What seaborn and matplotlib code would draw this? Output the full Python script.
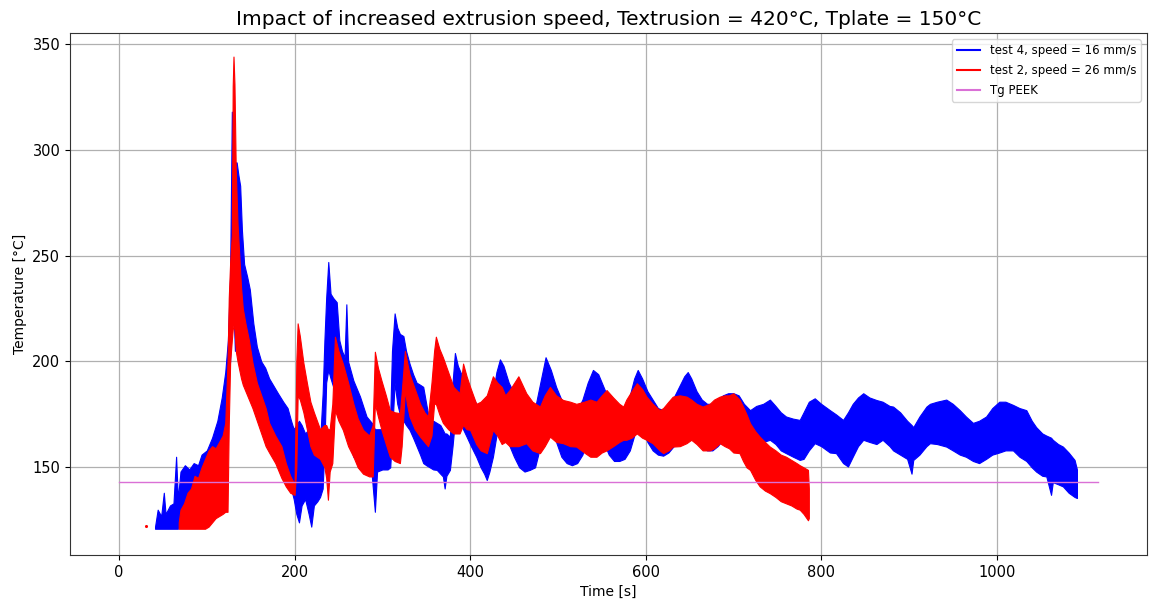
import numpy as np
import pandas as pd
import matplotlib
matplotlib.use("Agg")
import matplotlib.pyplot as plt
from matplotlib.lines import Line2D
import seaborn as sns

# ---------------- data ----------------
# test 4 (speed 16 mm/s): time [s], lower / upper envelope of the noisy signal [°C]
blue_t = [41, 44, 48, 51, 53, 58, 62, 65, 67, 70, 75, 80, 85, 90, 94, 100, 106, 112, 117, 121,
          124, 126.5, 128.5, 130, 132, 134, 136, 138, 140, 142.5, 146, 149, 153, 157, 162, 166.5,
          171, 176, 181, 187, 192, 196, 199, 202, 205, 208, 212, 216, 219, 222, 226, 229, 232,
          234, 236, 238.4, 241, 244, 248, 251, 254, 257, 259, 261, 267, 274.5, 282, 288, 291.5,
          294, 300, 306, 309, 311, 314, 317, 320, 324, 327, 331, 335, 339, 343, 346.6, 350, 354,
          358, 362, 366, 369, 371, 373, 377, 380, 382.7, 386, 388, 392, 396, 401, 407, 412, 416,
          419, 422, 426, 430, 434, 438, 444, 450, 456, 462, 468, 474, 480, 486, 492, 498, 504,
          510, 516, 522, 528, 534, 540, 546, 552, 558, 564, 570, 576, 582, 587, 591, 596, 602,
          608, 614, 620, 626, 632, 638, 644, 648, 652, 658, 664, 670, 676, 682, 688, 694, 700,
          706, 712, 719, 726, 734, 741.6, 748, 754, 760, 768, 775.6, 780, 786, 792.7, 800, 810,
          817, 825, 830.6, 836, 842, 848, 855, 863, 870, 878, 882, 890, 898, 903, 905, 912, 920,
          924, 932, 942.6, 950, 958, 965, 973, 980, 988, 995, 1003, 1010, 1018.6, 1026, 1033.8,
          1040, 1045, 1052, 1056.6, 1062, 1064, 1070, 1075.5, 1082, 1088.8, 1091.5]
blue_lo = [121, 121, 121, 121, 121, 121, 121, 121, 121, 123, 126, 128, 130, 132, 134, 138, 142, 148,
           155, 170, 185, 200, 225, 230, 205, 215, 210, 205, 200, 195, 190, 186, 180, 176, 172,
           168, 164, 160, 155, 150, 145, 140, 135, 128, 124, 132, 135, 128, 122, 132, 134, 136,
           140, 160, 190, 196, 192, 188, 183, 178, 172, 168, 166, 164, 155, 152, 148, 146, 129,
           148, 149, 149, 150, 165, 190, 180, 175, 172, 170, 167.7, 164, 160, 156, 152, 151, 150,
           149, 148.8, 147, 145.7, 140, 146, 148.8, 160, 172, 174, 174, 168, 164.5, 160, 155, 150,
           147, 144, 148, 155, 165, 170, 168, 161, 155, 150, 148, 148.8, 150, 160, 172, 168, 162,
           155, 152, 151, 152, 156, 165, 170, 168, 162, 156, 153, 153, 154, 158, 165, 170, 168,
           162, 158, 156, 155.5, 157, 160, 163, 166, 168, 165, 162, 160, 158, 158, 160, 163, 166,
           167, 166, 164, 163, 163, 162, 163, 161, 158, 156.7, 155, 153.5, 154, 158, 161.4, 160,
           157, 156.7, 152, 150.4, 155, 160, 163, 162, 161, 163, 160, 158, 156, 154, 147, 153.5,
           156, 160, 161.4, 161, 159.8, 158, 156, 155, 153, 152, 154, 156, 157, 158, 158, 155,
           153, 150, 148, 146, 145.7, 137, 143, 142, 141, 138, 136, 135.5]
blue_hi = [122, 130, 127, 138, 128, 132, 133, 155, 135, 148, 151, 149, 152, 151, 156, 158, 164, 172,
           183, 195, 210, 240, 318, 300, 294, 294, 288, 283, 262, 246, 240, 234, 218, 207, 200,
           197, 192, 188.5, 185, 181, 178, 172, 168, 170, 172, 170, 166, 168, 162, 161, 160, 162,
           185, 210, 230, 247, 232, 230, 228, 210, 205, 202, 227, 200, 191, 183.5, 174, 171, 168,
           168, 168, 167, 175, 205, 222.7, 216, 213, 212, 205, 199, 194, 190, 189, 188, 180, 171,
           172, 171, 170, 167.7, 166, 166, 164.5, 190, 204, 198, 196, 192, 189.7, 185, 180, 177,
           175, 173, 175, 185, 195, 201, 198, 190, 185, 180, 177, 176, 178, 190, 202, 196, 188,
           182, 178, 176, 177, 182, 190, 196, 194, 188, 182, 178, 176, 178, 184, 192, 196, 192,
           186, 182, 178, 177, 178, 183, 188, 193, 195, 192, 186, 182, 180, 180, 182, 184, 185,
           185, 184, 180, 177, 179, 180, 182, 179, 176, 174, 173, 172.4, 176, 181, 182.6, 180,
           177, 175, 172.4, 176, 180, 183, 185, 183, 181.8, 181, 179, 178.7, 176, 172, 170, 169,
           174, 178.7, 180, 181, 182, 180, 177, 174, 171, 172, 174, 178, 181, 181, 179.5, 178,
           177, 172, 169, 166, 165, 164, 163, 161, 159.8, 157, 153.5, 149]

# test 2 (speed 26 mm/s)
red_t = [68, 70, 74, 78, 82, 86, 90, 94, 98, 102, 106, 110, 114, 118, 121, 123.6, 125, 126.6,
         128.5, 129.5, 130.4, 131.5, 133, 135, 137, 139, 141, 144, 148, 152, 157, 162, 167, 171,
         178, 185, 190, 195, 200, 202, 203.5, 206, 210, 214, 218, 222, 229, 234, 236, 238, 240,
         243, 246, 250, 255, 261, 267, 272, 278, 285, 289, 291.5, 295, 299, 304, 308.6, 314, 320,
         322, 325.7, 328, 331, 337, 343, 348, 352, 356, 359, 361, 365, 369, 375, 381, 388, 392,
         396, 400, 407, 412, 419, 426, 431, 436, 440, 445, 455, 464, 471, 479.6, 485, 491, 498,
         506, 514, 521, 530, 537, 544, 550, 555.5, 563, 570, 574.5, 578, 584, 590, 596, 601, 608,
         616, 620, 626, 631, 639, 646.6, 652, 658, 665, 673, 678, 684.5, 690, 695, 700, 707, 711,
         715, 719, 725, 730, 736, 741.5, 748, 754, 760, 766, 772, 775.6, 780, 785, 786]
red_lo = [121, 121, 121, 121, 121, 121, 121, 121, 121, 122, 124, 126, 127, 128, 129, 129, 170, 200,
          210, 215, 217, 215, 205, 200, 196, 192, 189, 186, 182, 178, 172, 166, 160, 157, 152, 145,
          141, 138, 137, 150, 184, 182, 176, 168, 160, 156, 154, 150, 145, 134.7, 148, 152, 177,
          172, 167.7, 160, 155, 150, 147, 145.7, 145.7, 180, 174, 167.7, 161, 155, 153, 152, 160,
          186.5, 180, 174, 168, 164.5, 162, 160, 165, 180, 180, 175, 171, 168, 166, 166, 170, 168,
          167.7, 161, 158, 156.7, 167.7, 165, 161, 162, 160, 160, 161.4, 158, 156.7, 160, 164.5,
          162, 161.4, 160, 159.8, 157, 155, 155, 157, 158, 160, 162, 163, 163, 164, 166, 164, 163,
          161.4, 158, 156.7, 158, 159.8, 160, 161.4, 163, 161, 158, 158, 159, 161.4, 160, 159, 157,
          156.7, 153, 150, 148.8, 144, 141, 139, 137.8, 136, 134, 133, 132, 130.5, 130, 128, 125,
          126]
red_hi = [124, 130, 133, 138, 140, 146, 145, 150, 154, 158, 160, 159, 162, 165, 171, 200, 230, 247,
          260, 330, 344, 331, 290, 265, 250, 235, 225, 218, 210, 199.5, 190, 184, 178, 171, 165,
          160, 152, 146, 142, 200, 218, 212, 199.5, 190, 181, 176, 168, 170, 170, 168, 168, 180,
          211.7, 205, 199, 190, 180, 173, 167.7, 165, 170, 204.6, 197, 191, 184, 177, 176, 175.6,
          185, 205, 200, 194, 187, 180, 176, 174, 190, 205, 211.7, 206, 202, 195, 188, 185, 199,
          193, 188, 180, 181, 184, 193, 190, 188, 184, 186.5, 193, 185, 181, 178.7, 184, 188, 184,
          181.8, 181, 180, 181, 182, 181, 184, 186.5, 183, 180, 178.7, 182, 186, 189.7, 187, 183.4,
          180, 177, 178, 181, 183.4, 184, 183.4, 182, 180, 178.7, 180, 182, 183.4, 184, 184, 185,
          182, 178.7, 175, 170.8, 167, 164.5, 162, 159.8, 158, 156, 155, 153.5, 152, 151, 150,
          148.8, 140]

# isolated first sample of test 2
red_dot_t = [31]
red_dot_T = [122.5]

# glass transition temperature of PEEK
tg_t = [0, 1115]
tg_T = [143, 143]

labels = ["test 4, speed = 16 mm/s", "test 2, speed = 26 mm/s", "Tg PEEK"]
title = "Impact of increased extrusion speed, Textrusion = 420°C, Tplate = 150°C"

# ---------------- figure ----------------
plt.rcParams["font.family"] = ["DejaVu Sans"]
fig, ax = plt.subplots(figsize=(11.49, 6.05), dpi=100)
fig.subplots_adjust(left=0.061, right=0.998, bottom=0.083, top=0.945)


def band_frame(t, lo, hi):
    return pd.DataFrame({"t": list(t) + list(t), "T": list(lo) + list(hi)})


blue_df = band_frame(blue_t, blue_lo, blue_hi)
red_df = band_frame(red_t, red_lo, red_hi)

# the noisy signals are drawn as their min-max band (seaborn percentile interval 0-100)
sns.lineplot(data=blue_df, x="t", y="T", estimator="mean", errorbar=("pi", 100),
             color="blue", linewidth=0, ax=ax, legend=False,
             err_kws={"alpha": 1.0, "linewidth": 0.8, "edgecolor": "blue", "zorder": 2})
sns.lineplot(data=red_df, x="t", y="T", estimator="mean", errorbar=("pi", 100),
             color="red", linewidth=0, ax=ax, legend=False,
             err_kws={"alpha": 1.0, "linewidth": 0.8, "edgecolor": "red", "zorder": 3})
sns.scatterplot(x=red_dot_t, y=red_dot_T, color="red", s=5, linewidth=0, ax=ax, zorder=3)
sns.lineplot(x=tg_t, y=tg_T, color="orchid", linewidth=1.0, ax=ax, zorder=4)

ax.set_title(title, fontsize=14.5)
ax.set_xlabel("Time [s]", fontsize=10)
ax.set_ylabel("Temperature [°C]", fontsize=10)
ax.tick_params(labelsize=10.5)
ax.set_xticks([0, 200, 400, 600, 800, 1000])
ax.set_yticks([150, 200, 250, 300, 350])
ax.set_xlim(-55.8, 1171)
ax.set_ylim(108.7, 355)
ax.grid(True, color="#b0b0b0", linewidth=0.9)
ax.set_axisbelow(True)
for s in ax.spines.values():
    s.set_color("#333333")

handles = [Line2D([], [], color="blue", linewidth=1.5),
           Line2D([], [], color="red", linewidth=1.5),
           Line2D([], [], color="orchid", linewidth=1.5)]
ax.legend(handles, labels, loc="upper right", fontsize=8.5, labelspacing=0.6,
          framealpha=0.8, fancybox=True)

fig.savefig("out.png", dpi=100)
